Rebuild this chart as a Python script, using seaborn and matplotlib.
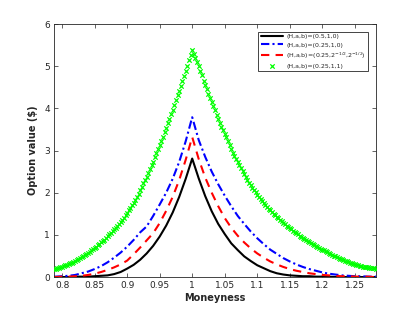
import matplotlib
matplotlib.use("Agg")
import matplotlib.pyplot as plt
import numpy as np
import pandas as pd
import seaborn as sns
from matplotlib.ticker import FuncFormatter

sns.set_theme(style="ticks")
plt.rcParams["font.family"] = ["DejaVu Sans"]

# ------------------------------------------------------------------ #
# Data
# ------------------------------------------------------------------ #
# moneyness grid for the (dense) marker series, step 0.0025
marker_x = np.round(np.arange(0.7875, 1.28251, 0.0025), 4)
green_left = [
    0.19, 0.20, 0.21, 0.22, 0.24, 0.25, 0.26, 0.28, 0.29, 0.31,
    0.33, 0.34, 0.36, 0.38, 0.40, 0.42, 0.45, 0.47, 0.49, 0.52,
    0.54, 0.57, 0.60, 0.63, 0.66, 0.69, 0.72, 0.75, 0.79, 0.82,
    0.86, 0.89, 0.93, 0.97, 1.01, 1.05, 1.09, 1.13, 1.17, 1.22,
    1.26, 1.31, 1.36, 1.41, 1.47, 1.52, 1.58, 1.64, 1.70, 1.76,
    1.83, 1.91, 1.98, 2.06, 2.14, 2.22, 2.30, 2.38, 2.47, 2.56,
    2.65, 2.74, 2.84, 2.93, 3.03, 3.13, 3.23, 3.33, 3.44, 3.54,
    3.65, 3.75, 3.86, 3.96, 4.08, 4.19, 4.31, 4.42, 4.54, 4.66,
    4.77, 4.89, 5.01, 5.14, 5.26, 5.38,
]
green_right = [
    5.28, 5.19, 5.09, 5.00, 4.89, 4.78, 4.66, 4.55, 4.45, 4.35,
    4.25, 4.15, 4.05, 3.95, 3.85, 3.75, 3.66, 3.57, 3.49, 3.40,
    3.31, 3.22, 3.12, 3.03, 2.95, 2.87, 2.80, 2.72, 2.65, 2.58,
    2.51, 2.44, 2.37, 2.31, 2.24, 2.18, 2.12, 2.06, 2.01, 1.95,
    1.90, 1.85, 1.81, 1.76, 1.71, 1.67, 1.62, 1.58, 1.54, 1.50,
    1.47, 1.43, 1.39, 1.36, 1.32, 1.29, 1.26, 1.22, 1.19, 1.16,
    1.13, 1.10, 1.07, 1.04, 1.01, 0.98, 0.96, 0.93, 0.90, 0.88,
    0.85, 0.83, 0.80, 0.78, 0.75, 0.73, 0.71, 0.69, 0.67, 0.65,
    0.63, 0.61, 0.59, 0.57, 0.55, 0.53, 0.51, 0.49, 0.47, 0.45,
    0.44, 0.42, 0.40, 0.38, 0.37, 0.35, 0.34, 0.33, 0.31, 0.30,
    0.29, 0.28, 0.27, 0.26, 0.25, 0.24, 0.24, 0.23, 0.22, 0.22,
    0.21, 0.21, 0.20,
]
green_vals = green_left + green_right

# moneyness grid for the line series
line_x = [0.7875] + list(np.round(np.arange(0.79, 1.2801, 0.01), 2)) + [1.2825]
black_vals = [
    0.00,
    0.00, 0.00, 0.00, 0.01, 0.01, 0.01, 0.02, 0.03, 0.04, 0.07,
    0.12, 0.20, 0.29, 0.41, 0.56, 0.74, 0.96, 1.22, 1.53, 1.90,
    2.33, 2.81,
    2.34, 1.92, 1.56, 1.26, 1.02, 0.80, 0.64, 0.49, 0.38, 0.28,
    0.21, 0.14, 0.09, 0.06, 0.04, 0.03, 0.02, 0.02, 0.01, 0.01,
    0.01, 0.00, 0.00, 0.00, 0.00, 0.00, 0.00, 0.00,
    0.00,
]
blue_vals = [
    0.01,
    0.01, 0.02, 0.03, 0.05, 0.09, 0.13, 0.19, 0.26, 0.35, 0.46,
    0.58, 0.72, 0.88, 1.06, 1.20, 1.45, 1.72, 2.00, 2.33, 2.73,
    3.22, 3.79,
    3.25, 2.85, 2.50, 2.20, 1.93, 1.68, 1.45, 1.26, 1.08, 0.92,
    0.78, 0.65, 0.55, 0.45, 0.37, 0.30, 0.24, 0.19, 0.15, 0.11,
    0.08, 0.06, 0.04, 0.03, 0.02, 0.02, 0.01, 0.01,
    0.01,
]
red_vals = [
    0.00,
    0.00, 0.01, 0.01, 0.02, 0.03, 0.05, 0.08, 0.12, 0.17, 0.23,
    0.30, 0.39, 0.54, 0.70, 0.87, 1.04, 1.28, 1.57, 1.90, 2.30,
    2.78, 3.32,
    2.80, 2.36, 2.00, 1.68, 1.40, 1.17, 0.98, 0.82, 0.68, 0.56,
    0.46, 0.37, 0.30, 0.24, 0.19, 0.15, 0.12, 0.09, 0.07, 0.05,
    0.04, 0.03, 0.02, 0.02, 0.01, 0.01, 0.01, 0.00,
    0.00,
]

labels = [
    "(H,a,b)=(0.5,1,0)",
    "(H,a,b)=(0.25,1,0)",
    "(H,a,b)=(0.25,2$^{-1/2}$,2$^{-1/2}$)",
    "(H,a,b)=(0.25,1,1)",
]
x_ticks = [0.8, 0.85, 0.9, 0.95, 1.0, 1.05, 1.1, 1.15, 1.2, 1.25]
y_ticks = [0, 1, 2, 3, 4, 5, 6]

lines_df = pd.DataFrame({"m": line_x, "black": black_vals, "blue": blue_vals, "red": red_vals})
green_df = pd.DataFrame({"m": marker_x, "v": green_vals})

# ------------------------------------------------------------------ #
# Plot
# ------------------------------------------------------------------ #
fig = plt.figure(figsize=(4.15, 3.12), dpi=100)
ax = fig.add_axes([0.130, 0.112, 0.776, 0.811])

sns.lineplot(data=lines_df, x="m", y="black", ax=ax, color="black", linewidth=1.5,
             label=labels[0])
sns.lineplot(data=lines_df, x="m", y="blue", ax=ax, color="blue", linewidth=1.5,
             linestyle=(0, (4, 1.5, 1, 1.5)), label=labels[1])
sns.lineplot(data=lines_df, x="m", y="red", ax=ax, color="red", linewidth=1.5,
             linestyle=(0, (4, 3)), label=labels[2])
sns.scatterplot(data=green_df, x="m", y="v", ax=ax, color=(0, 1, 0), marker="x",
                s=10, linewidth=0.9, label=labels[3], zorder=3)

ax.set_xlim(0.7875, 1.2825)
ax.set_ylim(0, 6)
ax.set_xticks(x_ticks)
ax.set_yticks(y_ticks)
ax.xaxis.set_major_formatter(FuncFormatter(lambda v, p: f"{v:g}"))
ax.tick_params(direction="in", top=True, right=True, length=3, width=0.5,
               labelsize=6.5, colors="0.15", pad=3)
for s in ax.spines.values():
    s.set_linewidth(0.6)
    s.set_color("0.15")

ax.set_xlabel("Moneyness", fontsize=7, fontweight="bold", color="0.15", labelpad=2)
ax.set_ylabel("Option value ($)", fontsize=7, fontweight="bold", color="0.15", labelpad=4)

leg = ax.legend(loc="upper right", fontsize=4.5, frameon=True, fancybox=False,
                framealpha=1, edgecolor="0.15", handlelength=3.6, handletextpad=0.5,
                borderaxespad=1.2, labelspacing=0.45, borderpad=0.4)
leg.get_frame().set_linewidth(0.6)

fig.savefig("out.png", dpi=100)
